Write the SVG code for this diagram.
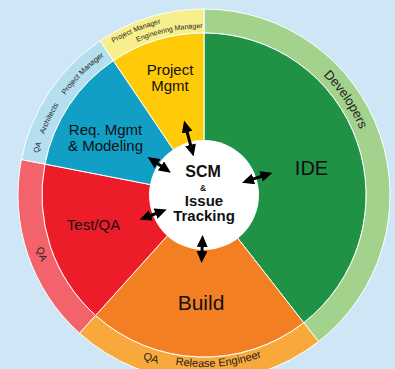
<svg xmlns="http://www.w3.org/2000/svg" width="395" height="369" viewBox="0 0 395 369">
<style>
.seg{stroke:#ffffff;stroke-width:1}
.lbl{font-family:"Liberation Sans",Arial,sans-serif;fill:#111;text-anchor:middle}
.ring{font-family:"Liberation Sans",Arial,sans-serif;fill:#222}
.ctr{font-family:"Liberation Sans",Arial,sans-serif;font-weight:bold;fill:#111;text-anchor:middle}
.arr{stroke:#000;stroke-width:3;fill:none;marker-start:url(#ah);marker-end:url(#ah)}
</style>
<defs>
<marker id="ah" viewBox="0 0 12 11" refX="3" refY="5.5" markerWidth="12" markerHeight="11" markerUnits="userSpaceOnUse" orient="auto-start-reverse">
<path d="M0,0 L12,5.5 L0,11 Z" fill="#000"/>
</marker>
<path id="pDev" d="M192.2,26.4 A169,169 0 0 1 355.9,269.1"/>
<path id="pY1" d="M28.5,172.0 A177,177 0 0 1 311.7,54.6"/>
<path id="pY2" d="M45.2,143.4 A167,167 0 0 1 328.1,83.3"/>
<path id="pB" d="M43.3,253.5 A171,171 0 0 1 174.3,26.6"/>
<path id="pR" d="M69.2,81.9 A176,176 0 0 0 173.4,368.3"/>
<path id="pO" d="M39.6,254.9 A175,175 0 0 0 338.1,307.5"/>
<path id="pO2" d="M42.4,253.8 A172,172 0 0 0 335.8,305.6"/>
</defs>
<rect width="395" height="369" fill="#cee6f5"/>
<g id="rings">
<path class="seg" fill="#a2d28b" d="M204,9 A186,186 0 0 1 318.5,341.6 L303.7,322.7 A162,162 0 0 0 204,33 Z"/>
<path class="seg" fill="#f9a83b" d="M318.5,341.6 A186,186 0 0 1 79.5,333.2 L95.6,315.4 A162,162 0 0 0 303.7,322.7 Z"/>
<path class="seg" fill="#f2636c" d="M79.5,333.2 A186,186 0 0 1 21.4,159.5 L45,164.1 A162,162 0 0 0 95.6,315.4 Z"/>
<path class="seg" fill="#b3dfee" d="M21.4,159.5 A186,186 0 0 1 100,40.8 L113.4,60.7 A162,162 0 0 0 45,164.1 Z"/>
<path class="seg" fill="#f7ef8c" d="M100,40.8 A186,186 0 0 1 204,9 L204,33 A162,162 0 0 0 113.4,60.7 Z"/>
</g>
<g id="ring-labels">
<text class="ring" font-size="13"><textPath href="#pDev" startOffset="50%" text-anchor="middle">Developers</textPath></text>
<text class="ring" font-size="7"><textPath href="#pY1" startOffset="50%" text-anchor="middle">Project Manager</textPath></text>
<text class="ring" font-size="7"><textPath href="#pY2" startOffset="50%" text-anchor="middle">Engineering Manager</textPath></text>
<text class="ring" font-size="7.5"><textPath href="#pB" startOffset="107.4" text-anchor="middle">QA</textPath></text>
<text class="ring" font-size="7.5"><textPath href="#pB" startOffset="138.2" text-anchor="middle">Architects</textPath></text>
<text class="ring" font-size="7.5"><textPath href="#pB" startOffset="194" text-anchor="middle">Project Manager</textPath></text>
<text class="ring" font-size="10"><textPath href="#pR" startOffset="50%" text-anchor="middle">QA</textPath></text>
<text class="ring" font-size="11"><textPath href="#pO" startOffset="158.8" text-anchor="middle">QA</textPath></text>
<text class="ring" font-size="11"><textPath href="#pO2" startOffset="225.1" text-anchor="middle">Release Engineer</textPath></text>
</g>
<g id="ide">
<path class="seg" fill="#1f9246" d="M204,195 L204,33 A162,162 0 0 1 303.7,322.7 Z"/>
<text class="lbl" x="311.5" y="175" font-size="20">IDE</text>
</g>
<g id="build">
<path class="seg" fill="#f28023" d="M204,195 L303.7,322.7 A162,162 0 0 1 95.6,315.4 Z"/>
<text class="lbl" x="201" y="310" font-size="21">Build</text>
</g>
<g id="testqa">
<path class="seg" fill="#ed1c29" d="M204,195 L95.6,315.4 A162,162 0 0 1 45,164.1 Z"/>
<text class="lbl" x="93.5" y="230" font-size="15">Test/QA</text>
</g>
<g id="reqmgmt">
<path class="seg" fill="#129fc6" d="M204,195 L45,164.1 A162,162 0 0 1 113.4,60.7 Z"/>
<text class="lbl" x="105.5" y="135" font-size="15">Req. Mgmt</text>
<text class="lbl" x="105.5" y="151" font-size="15">&amp; Modeling</text>
</g>
<g id="projmgmt">
<path class="seg" fill="#ffcb08" d="M204,195 L113.4,60.7 A162,162 0 0 1 204,33 Z"/>
<text class="lbl" x="170" y="75" font-size="15">Project</text>
<text class="lbl" x="170" y="91" font-size="15">Mgmt</text>
</g>
<g id="scm">
<circle cx="204" cy="195" r="55" fill="#ffffff"/>
<text class="ctr" x="203" y="177" font-size="16">SCM</text>
<text class="ctr" x="203" y="191" font-size="8.5">&amp;</text>
<text class="ctr" x="204" y="206" font-size="15">Issue</text>
<text class="ctr" x="204" y="221" font-size="15">Tracking</text>
</g>
<g id="connectors">
<line class="arr" x1="191.3" y1="147.7" x2="186.4" y2="129.3"/>
<line class="arr" x1="163.4" y1="167.6" x2="155.1" y2="162"/>
<line class="arr" x1="158.3" y1="212.6" x2="148" y2="216.5"/>
<line class="arr" x1="202.3" y1="244" x2="201.9" y2="254"/>
<line class="arr" x1="250.6" y1="179.9" x2="263.9" y2="175.5"/>
</g>
</svg>
